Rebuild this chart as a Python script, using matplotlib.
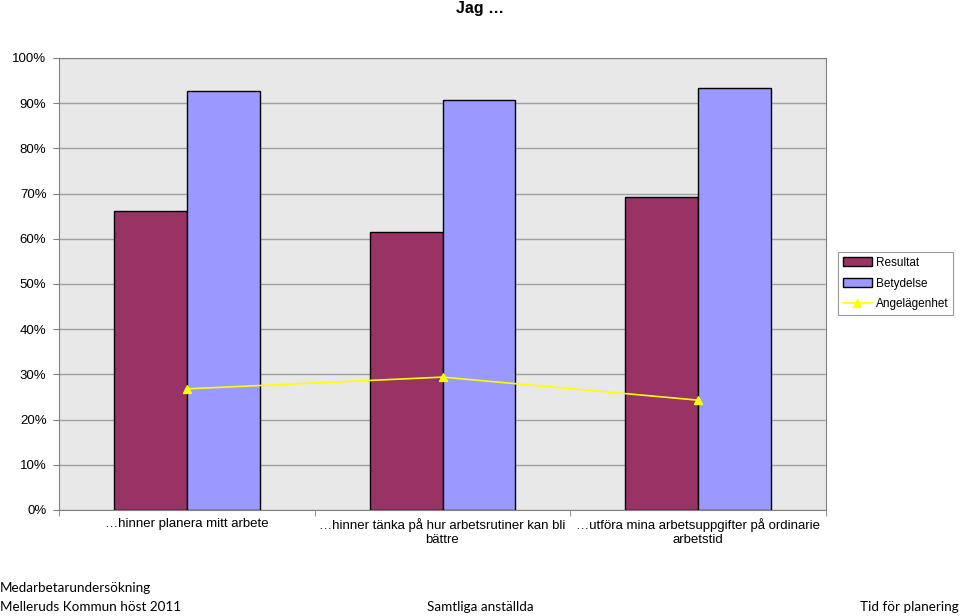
import matplotlib
matplotlib.use("Agg")
import matplotlib.pyplot as plt
import numpy as np
from matplotlib.ticker import MultipleLocator, FuncFormatter, FixedLocator

categories = ["\u2026hinner planera mitt arbete",
              "\u2026hinner tänka på hur arbetsrutiner kan bli\nbättre",
              "\u2026utföra mina arbetsuppgifter på ordinarie\narbetstid"]
resultat = [66.2, 61.5, 69.2]
betydelse = [92.7, 90.7, 93.4]
angelagenhet = [26.8, 29.4, 24.3]

plt.rcParams['font.family'] = ['Liberation Sans', 'DejaVu Sans']

fig = plt.figure(figsize=(9.6, 6.16), dpi=100)
ax = fig.add_axes([59/960, 1-510/616, (826-59)/960, (510-58)/616])
ax.set_facecolor('#e8e8e8')

x = np.arange(len(categories))
w = 0.285
b1 = ax.bar(x - w/2, resultat, width=w, color='#993366', edgecolor='black', linewidth=1.0, label='Resultat', zorder=3)
b2 = ax.bar(x + w/2, betydelse, width=w, color='#9999ff', edgecolor='black', linewidth=1.0, label='Betydelse', zorder=3)
l1, = ax.plot(x, angelagenhet, color='#ffff00', marker='^', markersize=6, linewidth=1.2, label='Angelägenhet', zorder=4)

ax.set_xlim(-0.5, len(categories) - 0.5)
ax.set_ylim(0, 100)
ax.yaxis.set_major_locator(MultipleLocator(10))
ax.yaxis.set_major_formatter(FuncFormatter(lambda v, p: f"{int(round(v))}%"))
ax.grid(axis='y', color='#a0a0a0', linewidth=1.0, zorder=0)
ax.set_axisbelow(True)

ax.set_xticks(x)
ax.set_xticklabels(categories, fontsize=9.5)
ax.tick_params(axis='x', length=0, pad=6)
ax.xaxis.set_minor_locator(FixedLocator([-0.5, 0.5, 1.5, 2.5]))
ax.tick_params(axis='x', which='minor', length=4, color='#808080')
ax.tick_params(axis='y', labelsize=9.5, length=4, color='#808080', pad=5)

for s in ax.spines.values():
    s.set_color('#808080')

leg = ax.legend([b1, b2, l1], ['Resultat', 'Betydelse', 'Angelägenhet'],
                loc='upper left', bbox_to_anchor=((838-59)/(826-59), 1-(252-58)/(510-58)),
                fontsize=8.5, frameon=True, fancybox=False, edgecolor='#808080',
                handlelength=2.5, borderaxespad=0, labelspacing=0.75, handletextpad=0.3,
                borderpad=0.4)
leg.get_frame().set_linewidth(0.8)

fig.text(0.5, 1-9/616, "Jag \u2026", ha='center', va='center', fontsize=11.5, fontweight='bold')

bfont = ['Lato', 'DejaVu Sans']
fig.text(0/960, 1-588/616, "Medarbetarundersökning", ha='left', va='center', fontsize=9.7, family=bfont)
fig.text(0/960, 1-607/616, "Melleruds Kommun höst 2011", ha='left', va='center', fontsize=9.7, family=bfont)
fig.text(480/960, 1-607/616, "Samtliga anställda", ha='center', va='center', fontsize=9.7, family=bfont)
fig.text(959/960, 1-607/616, "Tid för planering", ha='right', va='center', fontsize=9.7, family=bfont)

fig.savefig("out.png", dpi=100)
